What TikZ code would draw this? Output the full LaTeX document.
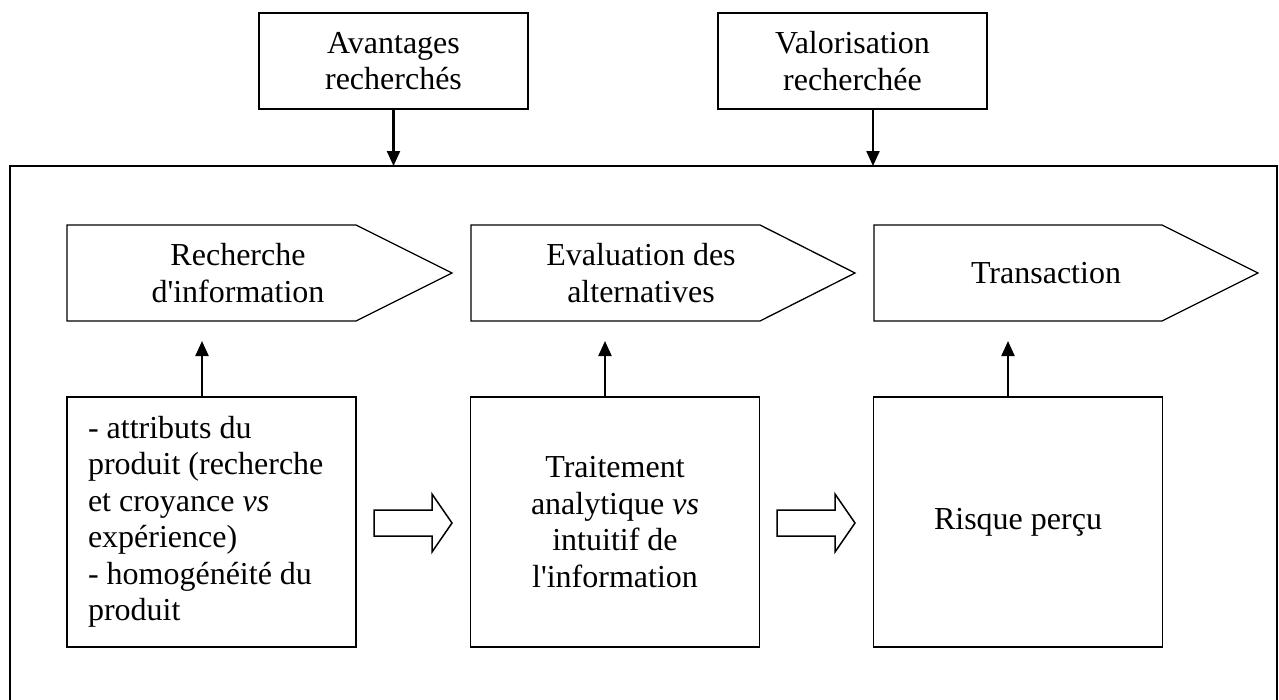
\documentclass[tikz,border=0pt]{standalone}
\usepackage{fontspec}
\setmainfont{Liberation Serif}[Ligatures=TeXOff]
\usetikzlibrary{arrows.meta}
\begin{document}
\begin{tikzpicture}[x=1pt,y=-1pt,
  every node/.style={font=\fontsize{32}{36.5}\selectfont},
  boxline/.style={draw=black,line width=1.3pt},
  topbox/.style={boxline,rectangle,minimum width=269pt,minimum height=96pt,align=center,inner sep=0pt},
  lowbox/.style={boxline,rectangle,minimum width=289pt,minimum height=250pt,inner sep=0pt},
  conn/.style={line width=2.2pt,-{Triangle[width=13pt,length=15pt]}},
  hollow/.style={draw=black,line width=1.5pt,fill=white,line join=miter},
  penta/.style={boxline,line join=miter}
]
\useasboundingbox (0,0) rectangle (1279,699);

% top boxes
\node[topbox] (avant) at (393.5,61) {Avantages\\recherchés};
\node[topbox] (valor) at (852.5,61) {Valorisation\\recherchée};

% outer frame (bottom edge outside the picture)
\draw[line width=1.6pt] (10,702) -- (10,166) -- (1277,166) -- (1277,702);
\coordinate (ta) at (393.5,166);
\coordinate (tv) at (873,166);
\draw[conn] (avant.south) -- (ta);
\draw[conn] ([xshift=20.5pt]valor.south) -- (tv);

% pentagons
\draw[penta] (67,225) -- (356,225) -- (452,273) -- (356,321) -- (67,321) -- cycle;
\node[align=center] (p1) at (238,273) {Recherche\\d'information};
\draw[penta] (471,225) -- (760,225) -- (855,273) -- (760,321) -- (471,321) -- cycle;
\node[align=center] (p2) at (641,273) {Evaluation des\\alternatives};
\draw[penta] (874,225) -- (1162,225) -- (1258,273) -- (1162,321) -- (874,321) -- cycle;
\node[align=center] (p3) at (1046,273) {Transaction};

\coordinate (e1) at (202,341);
\coordinate (e2) at (605,341);
\coordinate (e3) at (1008,341);

% lower boxes
\node[lowbox,text width=247pt,inner xsep=21pt,align=flush left] (b1) at (211.5,522)
  {- attributs du\\produit (recherche\\et croyance \textit{vs}\\expérience)\\- homogénéité du\\produit};
\node[lowbox,align=center] (b2) at (615,522)
  {Traitement\\analytique \textit{vs}\\intuitif de\\l'information};
\node[lowbox,align=center] (b3) at (1018,522) {Risque perçu};

\draw[conn] (b1.north -| e1) -- (e1);
\draw[conn] (b2.north -| e2) -- (e2);
\draw[conn] (b3.north -| e3) -- (e3);

% hollow block arrows
\draw[hollow] (374,510) -- (432,510) -- (432,494) -- (452,523) -- (432,552) -- (432,536) -- (374,536) -- cycle;
\draw[hollow] (777,510) -- (835,510) -- (835,494) -- (855,523) -- (835,552) -- (835,536) -- (777,536) -- cycle;
\end{tikzpicture}
\end{document}
